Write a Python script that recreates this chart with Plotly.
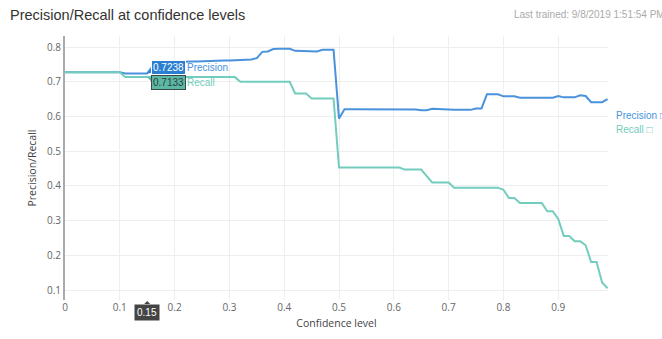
import plotly.graph_objects as go

confidence = [round(i * 0.01, 2) for i in range(100)]

precision = [
    0.7275, 0.7275, 0.7275, 0.7275, 0.7275, 0.7275, 0.7275, 0.7275, 0.7275, 0.7275,
    0.7275, 0.7238, 0.7238, 0.7238, 0.7238, 0.7238, 0.745, 0.752, 0.755, 0.756,
    0.756, 0.757, 0.757, 0.758, 0.758, 0.759, 0.759, 0.760, 0.760, 0.761,
    0.761, 0.762, 0.762, 0.763, 0.764, 0.768, 0.786, 0.787, 0.794, 0.795,
    0.795, 0.795, 0.789, 0.789, 0.788, 0.788, 0.787, 0.792, 0.792, 0.792,
    0.594, 0.621, 0.621, 0.621, 0.621, 0.621, 0.621, 0.621, 0.621, 0.621,
    0.621, 0.620, 0.620, 0.620, 0.620, 0.618, 0.618, 0.622, 0.622, 0.622,
    0.620, 0.619, 0.619, 0.619, 0.619, 0.623, 0.623, 0.664, 0.664, 0.664,
    0.658, 0.658, 0.658, 0.654, 0.654, 0.654, 0.654, 0.654, 0.654, 0.654,
    0.659, 0.655, 0.655, 0.655, 0.661, 0.659, 0.641, 0.641, 0.641, 0.650,
]

recall = [
    0.7275, 0.7275, 0.7275, 0.7275, 0.7275, 0.7275, 0.7275, 0.7275, 0.7275, 0.7275,
    0.7275, 0.7133, 0.7133, 0.7133, 0.7133, 0.7133, 0.7133, 0.7133, 0.7133, 0.7133,
    0.7133, 0.7133, 0.7133, 0.7133, 0.7133, 0.7133, 0.7133, 0.7133, 0.7133, 0.7133,
    0.7133, 0.7133, 0.700, 0.700, 0.700, 0.700, 0.700, 0.700, 0.700, 0.700,
    0.700, 0.700, 0.666, 0.666, 0.666, 0.652, 0.652, 0.652, 0.652, 0.652,
    0.453, 0.453, 0.453, 0.453, 0.453, 0.453, 0.453, 0.453, 0.453, 0.453,
    0.453, 0.453, 0.447, 0.447, 0.447, 0.447, 0.428, 0.410, 0.410, 0.410,
    0.410, 0.395, 0.395, 0.395, 0.395, 0.395, 0.395, 0.395, 0.395, 0.395,
    0.389, 0.365, 0.365, 0.351, 0.351, 0.351, 0.351, 0.351, 0.327, 0.327,
    0.305, 0.256, 0.256, 0.241, 0.241, 0.229, 0.181, 0.181, 0.122, 0.105,
]

series_names = ["Precision", "Recall"]
series_colors = ["#4a92dc", "#72cdbd"]
hover_x = 0.15
hover_idx = 15

fig = go.Figure()
for name, vals, col in zip(series_names, [precision, recall], series_colors):
    fig.add_trace(go.Scatter(x=confidence, y=vals, mode="lines", name=name,
                             line=dict(color=col, width=2), showlegend=False))

# simulated hover labels
hov_bg = ["#2b7fd3", "#5bb8a5"]
hov_fg = ["#ffffff", "#2f3f3b"]
hov_border = ["#ffffff", "#3a4a46"]
hov_shift = [6, -5]
for k, (name, vals) in enumerate(zip(series_names, [precision, recall])):
    yv = vals[hover_idx]
    fig.add_annotation(x=hover_x, y=yv, xref="x", yref="y", text=f"{yv:.4f}",
                       showarrow=False, xanchor="left", yanchor="middle",
                       xshift=4, yshift=hov_shift[k], bgcolor=hov_bg[k],
                       bordercolor=hov_border[k], borderwidth=1, borderpad=1,
                       font=dict(family="Liberation Sans, Arial", size=10, color=hov_fg[k]))
    fig.add_annotation(x=hover_x, y=yv, xref="x", yref="y", text=name,
                       showarrow=False, xanchor="left", yanchor="middle",
                       xshift=38, yshift=hov_shift[k],
                       font=dict(family="Liberation Sans, Arial", size=10, color=series_colors[k]))
    sgn = 1 if hov_shift[k] > 0 else -1
    fig.add_shape(type="path", xref="x", yref="y", xsizemode="pixel", ysizemode="pixel",
                  xanchor=hover_x, yanchor=yv,
                  path=f"M0,0 L6,{sgn*1} L6,{sgn*7} Z",
                  fillcolor=hov_bg[k], line=dict(width=0))

# x spike label
fig.add_annotation(x=hover_x, y=0, xref="x", yref="paper", text=f"{hover_x:.2f}",
                   showarrow=False, xanchor="center", yanchor="top", yshift=-4,
                   bgcolor="#444444", borderpad=2,
                   font=dict(family="Liberation Sans, Arial", size=10, color="#ffffff"))
fig.add_shape(type="path", xref="x", yref="paper", xsizemode="pixel", ysizemode="pixel",
              xanchor=hover_x, yanchor=0, path="M-3,-4 L0,-1 L3,-4 Z",
              fillcolor="#444444", line=dict(width=0))

# legend (text on the right)
leg_y = [118, 132]
for k, name in enumerate(series_names):
    fig.add_annotation(x=1, y=1 - (leg_y[k] - 36) / 271, xref="paper", yref="paper",
                       text=name + " \u25a1", showarrow=False, xanchor="left",
                       yanchor="middle", xshift=6,
                       font=dict(family="Liberation Sans, Arial", size=10, color=series_colors[k]))

# top texts
fig.add_annotation(x=-65 / 543 + 8 / 543, y=1 + (36 - 14) / 271, xref="paper", yref="paper",
                   text="Precision/Recall at confidence levels", showarrow=False,
                   xanchor="left", yanchor="middle",
                   font=dict(family="Liberation Sans, Arial", size=14.5, color="#333333"))
fig.add_annotation(x=(512 - 65) / 543, y=1 + (36 - 14) / 271, xref="paper", yref="paper",
                   text="Last trained: 9/8/2019 1:51:54 PM", showarrow=False,
                   xanchor="left", yanchor="middle",
                   font=dict(family="Liberation Sans, Arial", size=10, color="#aaaaaa"))

fig.update_layout(
    width=662, height=339,
    margin=dict(l=65, r=54, t=36, b=32),
    plot_bgcolor="#ffffff", paper_bgcolor="#ffffff",
    font=dict(family="Open Sans, sans-serif", size=10, color="#555555"),
    xaxis=dict(range=[0, 0.9908], tickvals=[0, 0.1, 0.2, 0.3, 0.4, 0.5, 0.6, 0.7, 0.8, 0.9],
               ticktext=["0", "0.1", "0.2", "0.3", "0.4", "0.5", "0.6", "0.7", "0.8", "0.9"],
               showgrid=True, gridcolor="#eeeeee", gridwidth=1, zeroline=False,
               showline=False, ticks="",
               title=dict(text="Confidence level", font=dict(size=10.5, color="#444444"), standoff=6),
               tickfont=dict(size=10, color="#666666")),
    yaxis=dict(range=[0.0715, 0.8317], tickvals=[0.1, 0.2, 0.3, 0.4, 0.5, 0.6, 0.7, 0.8],
               showgrid=True, gridcolor="#eeeeee", gridwidth=1, zeroline=False,
               showline=True, linecolor="#aaaaaa", linewidth=2, ticks="",
               title=dict(text="Precision/Recall", font=dict(size=10.5, color="#444444"), standoff=8),
               tickfont=dict(size=10, color="#666666")),
    showlegend=False,
)

fig.write_html("out.html", config={"displayModeBar": False},
               post_script="document.body.style.margin='0px';document.body.style.overflow='hidden';")
